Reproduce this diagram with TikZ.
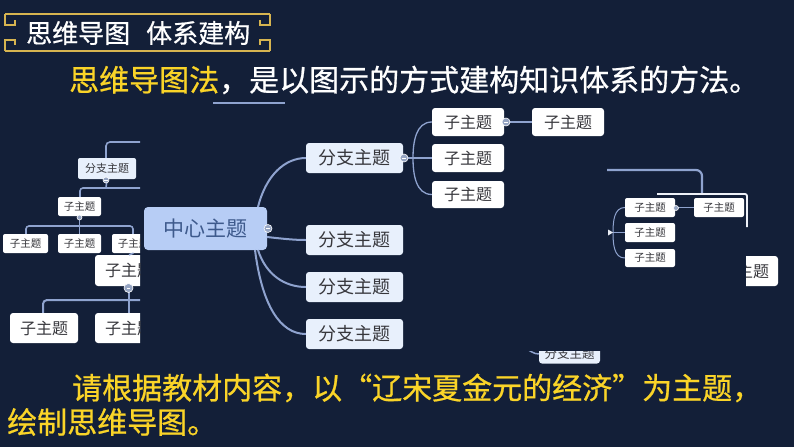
\documentclass[tikz,border=0pt]{standalone}
\usepackage{fontspec}
\setmainfont{Noto Sans CJK SC}
\newfontfamily\headfont{Noto Sans CJK SC}[FakeBold=0.7]
\usetikzlibrary{calc}
\definecolor{bg}{RGB}{19,31,56}
\definecolor{gold}{RGB}{214,180,80}
\definecolor{yel}{RGB}{250,212,40}
\definecolor{conn}{RGB}{143,163,207}
\definecolor{cfill}{RGB}{183,205,245}
\definecolor{ctext}{RGB}{62,90,140}
\definecolor{bfill}{RGB}{232,240,252}
\definecolor{dtext}{RGB}{55,55,60}
\definecolor{knob}{RGB}{150,165,195}
\tikzset{
  txt/.style={inner sep=0pt, anchor=west},
  central/.style={draw=none, fill=cfill, rounded corners=4pt, text=ctext, inner sep=0pt, font=\fontsize{21}{21}\selectfont},
  branch/.style={fill=bfill, rounded corners=3pt, text=dtext, inner sep=0pt, font=\fontsize{18}{18}\selectfont},
  child/.style={fill=white, rounded corners=3pt, text=dtext, inner sep=0pt, font=\fontsize{16}{16}\selectfont},
  small/.style={fill=white, rounded corners=2pt, text=dtext, inner sep=0pt, font=\fontsize{10.5}{10.5}\selectfont},
  conn/.style={draw=conn, line width=2pt},
  thin/.style={draw=conn, line width=1.3pt},
  knob/.style={circle, fill=knob, draw=white, line width=0.6pt, inner sep=0pt, minimum size=#1},
  frame/.style={draw=gold, line width=2.5pt},
}
\newcommand{\minus}[1]{\draw[white, line width=0.8pt] ($(#1)+(-1.8,0)$) -- ($(#1)+(1.8,0)$);}
\begin{document}
\begin{tikzpicture}[x=1pt,y=-1pt]
\fill[bg] (0,0) rectangle (794,447);
\useasboundingbox (0,0) rectangle (794,447);

% title frame
\draw[frame] (5,14) -- (270,14);
\draw[frame] (5,51) -- (270,51);
\draw[frame] (5,14) -- (5,25) -- (15,25) -- (15,20);
\draw[frame] (5,51) -- (5,40) -- (15,40) -- (15,45);
\draw[frame] (270,14) -- (270,25) -- (260,25) -- (260,20);
\draw[frame] (270,51) -- (270,40) -- (260,40) -- (260,45);
\node[txt, text=white, font=\headfont\fontsize{26}{26}\selectfont] (title) at (26,33) {思维导图\hspace*{16pt}体系建构};

% headline
\node[txt, font=\headfont\fontsize{30}{30}\selectfont] (head) at (69,80) {\textcolor{yel}{思维导图法}\textcolor{white}{，是以图示的方式建构知识体系的方法。}};
\coordinate (ul1) at (213,103);
\coordinate (ul2) at (285,103);
\draw[conn] (ul1) -- (ul2);

% ===== central map =====
\node[central, minimum width=123pt, minimum height=43pt] (c) at (205.5,228.5) {中心主题};
\node[branch, minimum width=97pt, minimum height=30pt] (b1) at (354.5,158) {分支主题};
\node[branch, minimum width=97pt, minimum height=30pt] (b2) at (354.5,240) {分支主题};
\node[branch, minimum width=97pt, minimum height=30pt] (b3) at (354.5,287) {分支主题};
\node[branch, minimum width=97pt, minimum height=30pt] (b4) at (354.5,334) {分支主题};
\coordinate (s1) at (258,207);
\coordinate (s2) at (267,237);
\coordinate (s3) at (258,250);
\coordinate (s4) at (255,250);
\draw[conn] (s1) .. controls (266,175) and (285,158) .. (b1.west);
\draw[conn] (s2) .. controls (285,239) and (295,240) .. (b2.west);
\draw[conn] (s3) .. controls (266,275) and (285,287) .. (b3.west);
\draw[conn] (s4) .. controls (262,305) and (280,334) .. (b4.west);
\node[knob=8pt] (k0) at (268,228.5) {};
\minus{k0}

\node[child, minimum width=72pt, minimum height=28pt] (c1) at (468,122) {子主题};
\node[child, minimum width=72pt, minimum height=28pt] (c2) at (468,158) {子主题};
\node[child, minimum width=72pt, minimum height=27pt] (c3) at (468,194.5) {子主题};
\node[child, minimum width=72pt, minimum height=28pt] (c4) at (568,122) {子主题};
\coordinate (j1) at (413,158);
\draw[thin] (b1.east) -- (c2.west);
\draw[thin] (c1.west) to[out=180,in=90] (j1) to[out=-90,in=180] (c3.west);
\draw[conn] (c1.east) -- (c4.west);
\node[knob=8pt] (k1) at (404,158) {};
\minus{k1}
\node[knob=8pt] (k2) at (506,122) {};
\minus{k2}

% ===== left fragment =====
\begin{scope}
\clip (0,130) rectangle (140,360);
\draw[conn, line width=1.6pt, rounded corners=4pt] (150,142) -| (106,158);
\node[small, fill=bfill, font=\fontsize{11}{11}\selectfont, minimum width=58pt, minimum height=21pt] (lb) at (107,168.5) {分支主题};
\draw[conn, line width=1.6pt, rounded corners=3pt] (150,188) -| (80,197);
\draw[conn, line width=1.6pt] (lb.south) -- (106,188);
\node[small, minimum width=43pt, minimum height=19pt] (lc) at (79.5,206.5) {子主题};
\draw[conn, line width=1.6pt, rounded corners=3pt] (26,234) -- (26,226) -- (133,226) -- (133,234);
\draw[conn, line width=1.6pt] (lc.south) -- (79.5,234);
\node[small, minimum width=45pt, minimum height=19pt] (ld1) at (25.5,243.5) {子主题};
\node[small, minimum width=43pt, minimum height=19pt] (ld2) at (79.5,243.5) {子主题};
\node[small, minimum width=43pt, minimum height=19pt] (ld3) at (133.5,243.5) {子主题};
\node[child, minimum width=68pt, minimum height=31pt] (le) at (129,270.5) {子主题};
\draw[conn, line width=1.6pt] (ld3.south) -- (le.north);
\draw[conn, line width=2pt, rounded corners=4pt] (150,300) -| (43,313);
\draw[conn, line width=2pt] (le.south) -- (129,313);
\node[child, minimum width=68pt, minimum height=30pt] (lf1) at (44,328) {子主题};
\node[child, minimum width=68pt, minimum height=30pt] (lf2) at (129,328) {子主题};
\node[knob=6pt] (lk1) at (106,180) {};
\minus{lk1}
\node[knob=5pt] (lk2) at (79.5,217.5) {};
\node[knob=9pt] (lk3) at (128.5,288) {};
\minus{lk3}
\end{scope}

% ===== right fragment =====
\coordinate (r0) at (607,170);
\coordinate (r1) at (702,194);
\draw[conn, line width=2.2pt, rounded corners=6pt] (r0) -| (r1);
\coordinate (r2) at (657,194);
\coordinate (r3) at (747,227);
\draw[white!85!conn, line width=1.8pt, rounded corners=2pt] (r2) -| (r3);
\node[small, minimum width=50pt, minimum height=19pt] (rc1) at (650,207.5) {子主题};
\node[small, minimum width=50pt, minimum height=19pt] (rc2) at (650,232.5) {子主题};
\node[small, minimum width=50pt, minimum height=18pt] (rc3) at (650,258) {子主题};
\node[small, minimum width=50pt, minimum height=19pt] (rc4) at (719,207.5) {子主题};
\coordinate (rj) at (613,232.5);
\draw[thin, line width=1pt] (rc1.west) to[out=180,in=90] (rj) to[out=-90,in=180] (rc3.west);
\draw[thin, line width=1pt] (rj) -- (rc2.west);
\draw[thin, line width=1pt] (rc1.east) -- (rc4.west);
\fill[white!80!conn] (rj) -- ++(-5,-3) -- ++(0,6) -- cycle;
\node[knob=5pt] (rk) at (676,208) {};
\begin{scope}
\clip (746,240) rectangle (794,300);
\node[child, minimum width=66pt, minimum height=30pt] (rbig) at (745,271) {子主题};
\end{scope}

% ===== bottom partial branch =====
\begin{scope}
\clip (500,351) rectangle (640,364);
\node[branch, font=\fontsize{12.5}{12.5}\selectfont, minimum width=61pt, minimum height=19pt] (bb) at (569.5,354) {分支主题};
\coordinate (bs) at (526,349);
\draw[conn, line width=1.5pt] (bs) to[out=-20,in=180] (bb.west);
\end{scope}

% bottom text
\node[txt, text=yel, font=\headfont\fontsize{30}{30}\selectfont] (q1) at (72,388) {请根据教材内容，以“辽宋夏金元的经济”为主题，};
\node[txt, text=yel, font=\headfont\fontsize{30}{30}\selectfont] (q2) at (7,422) {绘制思维导图。};
\end{tikzpicture}
\end{document}
